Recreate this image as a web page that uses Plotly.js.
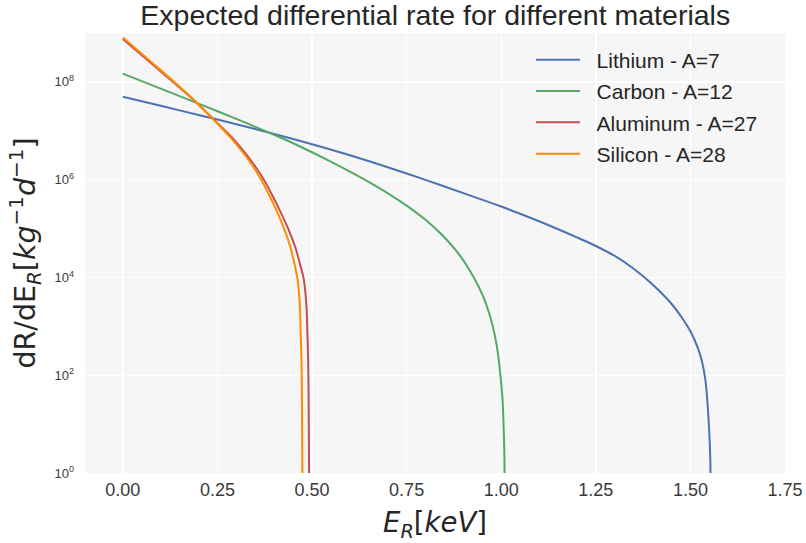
<!DOCTYPE html>
<html>
<head>
<meta charset="utf-8">
<script src="https://cdn.plot.ly/plotly-3.0.1.min.js"></script>
<style>html,body{margin:0;padding:0;background:#fff;}#chart{width:806px;height:543px;}</style>
</head>
<body>
<div id="chart"></div>
<script>
// Recoil energy E_R [keV] and differential rate dR/dE_R [kg^-1 d^-1]
const seriesNames = ["Lithium - A=7", "Carbon - A=12", "Aluminum - A=27", "Silicon - A=28"];
const seriesColors = ["#4C72B0", "#55A868", "#C44E52", "#FF8C00"];

const energyLithium = [0, 0.1, 0.2, 0.3, 0.4, 0.5, 0.6, 0.7, 0.8, 0.9, 1.0, 1.1, 1.2, 1.25, 1.3, 1.35, 1.4, 1.45, 1.48, 1.5, 1.52, 1.53, 1.54, 1.545, 1.55, 1.5525, 1.554];
const rateLithium = [4.95e7, 3.24e7, 2.11e7, 1.36e7, 8.6e6, 5.3e6, 3.16e6, 1.8e6, 9.9e5, 5.3e5, 2.82e5, 1.41e5, 6.6e4, 4.4e4, 2.75e4, 1.51e4, 7.2e3, 2.9e3, 1.41e3, 790, 355, 200, 76, 28, 6.5, 2, 0.1];

const energyCarbon = [0, 0.1, 0.2, 0.3, 0.4, 0.467, 0.547, 0.626, 0.67, 0.714, 0.752, 0.803, 0.847, 0.891, 0.926, 0.952, 0.97, 0.983, 0.992, 0.998, 1.0035, 1.0065, 1.0085, 1.0095];
const rateCarbon = [1.472e8, 7.29e7, 3.59e7, 1.75e7, 8.28e6, 4.82e6, 2.39e6, 1.135e6, 7.26e5, 4.51e5, 2.88e5, 1.44e5, 6.95e4, 2.79e4, 1.045e4, 4.16e3, 1.67e3, 661, 255, 96.8, 31.6, 7.94, 2.0, 0.1];

const energyAluminum = [0, 0.05, 0.1, 0.15, 0.194, 0.238, 0.287, 0.3235, 0.351, 0.3735, 0.397, 0.4185, 0.4385, 0.4553, 0.4677, 0.4777, 0.4827, 0.4859, 0.4878, 0.4896, 0.4905, 0.4913, 0.4922, 0.4925];
const rateAluminum = [7.5e8, 3.51e8, 1.64e8, 7.67e7, 3.8e7, 1.78e7, 7.5e6, 3.51e6, 1.82e6, 9.77e5, 4.47e5, 2.04e5, 9.33e4, 4.27e4, 1.95e4, 9.55e3, 4.68e3, 2.14e3, 724, 240, 93.3, 14.1, 1.0, 0.1];

const energySilicon = [0, 0.05, 0.1, 0.15, 0.194, 0.238, 0.283, 0.3185, 0.345, 0.3665, 0.389, 0.4095, 0.4275, 0.4425, 0.4532, 0.4612, 0.4657, 0.4684, 0.4701, 0.4719, 0.4728, 0.4736, 0.4745, 0.4748];
const rateSilicon = [8.13e8, 3.76e8, 1.74e8, 7.94e7, 3.85e7, 1.74e7, 7.5e6, 3.51e6, 1.82e6, 9.77e5, 4.47e5, 2.04e5, 9.33e4, 4.27e4, 1.95e4, 9.55e3, 4.68e3, 2.14e3, 724, 240, 93.3, 14.1, 1.0, 0.1];

const xTickValues = [0, 0.25, 0.5, 0.75, 1.0, 1.25, 1.5, 1.75];
const xTickLabels = ["0.00", "0.25", "0.50", "0.75", "1.00", "1.25", "1.50", "1.75"];
const yTickValues = [1, 1e2, 1e4, 1e6, 1e8];
const yTickLabels = ["10<sup>0</sup>", "10<sup>2</sup>", "10<sup>4</sup>", "10<sup>6</sup>", "10<sup>8</sup>"];

const xs = [energyLithium, energyCarbon, energyAluminum, energySilicon];
const ys = [rateLithium, rateCarbon, rateAluminum, rateSilicon];

const traces = seriesNames.map((name, i) => ({
  x: xs[i], y: ys[i], name: "\u00a0\u00a0" + name, type: "scatter", mode: "lines",
  line: {color: seriesColors[i], width: 2, shape: "spline", smoothing: 0.9},
  legendgroup: "g" + i
}));

const layout = {
  width: 806, height: 543,
  paper_bgcolor: "#ffffff", plot_bgcolor: "#f6f6f6",
  margin: {l: 85, r: 21, t: 33, b: 70, pad: 0},
  font: {family: "Liberation Sans, Arial, sans-serif", color: "#262626"},
  title: {text: "Expected differential rate for different materials", font: {size: 28.5, color: "#262626"},
          x: 0.54, xanchor: "center", xref: "container", yref: "container", y: 0.972, yanchor: "middle"},
  showlegend: true,
  legend: {x: 0.637, xanchor: "left", y: 0.985, yanchor: "top", bgcolor: "rgba(0,0,0,0)",
           borderwidth: 0, font: {size: 21, color: "#262626"}, tracegroupgap: 1, itemwidth: 44},
  xaxis: {range: [-0.1, 1.75], tickvals: xTickValues, ticktext: xTickLabels, showgrid: true,
          gridcolor: "#ffffff", gridwidth: 1.4, zeroline: false, showline: false, ticks: "",
          tickfont: {size: 18, color: "#3a3a3a"}, ticklabelstandoff: 4,
          title: {text: "<i>E</i><sub><i>R</i></sub>[<i>keV</i>]", font: {family: "DejaVu Sans", size: 27.5, color: "#262626"}, standoff: 15}},
  yaxis: {type: "log", range: [0, 9], tickvals: yTickValues, ticktext: yTickLabels, showgrid: true,
          gridcolor: "#ffffff", gridwidth: 1.4, zeroline: false, showline: false, ticks: "",
          tickfont: {size: 13, color: "#3a3a3a"}, ticklabelstandoff: 10,
          title: {text: "dR/dE<sub><i>R</i></sub>[<i>kg</i><sup>−1</sup><i>d</i><sup>−1</sup>]", font: {family: "DejaVu Sans", size: 28.5, color: "#262626"}, standoff: 10}},
  hovermode: false
};

Plotly.newPlot("chart", traces, layout, {displayModeBar: false, staticPlot: true});
</script>
</body>
</html>
